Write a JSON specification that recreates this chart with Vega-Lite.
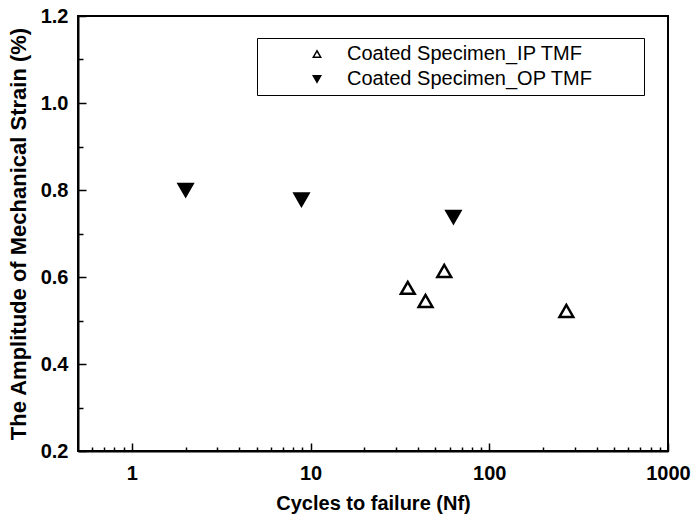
{
  "$schema": "https://vega.github.io/schema/vega-lite/v6.json",
  "width": 590,
  "height": 435,
  "autosize": "none",
  "padding": {"left": 78, "top": 16, "right": 25, "bottom": 73},
  "background": "white",
  "config": {
    "view": {"stroke": "black", "strokeWidth": 2},
    "font": "Liberation Sans",
    "axis": {"grid": false, "domainColor": "black", "domainWidth": 2, "tickColor": "black", "tickWidth": 1.5,
             "labelFont": "Liberation Sans", "labelFontWeight": "bold", "labelFontSize": 20, "labelColor": "black", "labelFlush": false,
             "titleFont": "Liberation Sans", "titleFontWeight": "bold", "titleFontSize": 22, "titleColor": "black", "titleLimit": 1000},
    "legend": {"strokeColor": "black"}
  },
  "data": {"values": [
    {"cycles": 2.0, "strain": 0.80, "series": "Coated Specimen_OP TMF"},
    {"cycles": 8.9, "strain": 0.778, "series": "Coated Specimen_OP TMF"},
    {"cycles": 63, "strain": 0.738, "series": "Coated Specimen_OP TMF"},
    {"cycles": 35, "strain": 0.575, "series": "Coated Specimen_IP TMF"},
    {"cycles": 44, "strain": 0.545, "series": "Coated Specimen_IP TMF"},
    {"cycles": 56, "strain": 0.614, "series": "Coated Specimen_IP TMF"},
    {"cycles": 270, "strain": 0.522, "series": "Coated Specimen_IP TMF"}
  ]},
  "layer": [
    {
      "mark": {"type": "point", "opacity": 0},
      "encoding": {
        "x": {"field": "cycles", "type": "quantitative", "scale": {"type": "log", "domain": [0.5, 1000], "nice": false},
              "axis": {"orient": "bottom", "values": [0.6,0.7,0.8,0.9,2,3,4,5,6,7,8,9,20,30,40,50,60,70,80,90,200,300,400,500,600,700,800,900],
                       "labels": false, "domain": false, "tickSize": -4, "title": null}},
        "y": {"field": "strain", "type": "quantitative", "scale": {"domain": [0.2, 1.2], "nice": false, "zero": false},
              "axis": {"orient": "left", "values": [0.3,0.5,0.7,0.9,1.1], "labels": false, "domain": false, "tickSize": -5, "title": null}}
      }
    },
    {
      "mark": {"type": "point", "filled": true, "size": 190, "strokeWidth": 2.5, "opacity": 1},
      "encoding": {
        "x": {"field": "cycles", "type": "quantitative",
              "axis": {"orient": "bottom", "values": [1, 10, 100, 1000], "format": "d", "tickSize": -8, "labelPadding": 20,
                       "title": "Cycles to failure (Nf)", "titlePadding": 10, "titleFontSize": 20}},
        "y": {"field": "strain", "type": "quantitative",
              "axis": {"orient": "left", "values": [0.2,0.4,0.6,0.8,1.0,1.2], "format": ".1f", "tickSize": -8, "labelPadding": 18,
                       "title": "The Amplitude of Mechanical Strain (%)", "titlePadding": 10}},
        "shape": {"field": "series", "type": "nominal",
                  "scale": {"domain": ["Coated Specimen_IP TMF", "Coated Specimen_OP TMF"], "range": ["triangle-up", "triangle-down"]},
                  "legend": {"orient": "none", "legendX": 179, "legendY": 22, "title": null,
                             "fillColor": "white", "padding": 6,
                             "symbolOffset": 44, "labelOffset": 20, "labelFontSize": 20, "labelFont": "Liberation Sans",
                             "labelFontWeight": "normal", "labelColor": "black", "symbolSize": 55, "symbolStrokeWidth": 1.5,
                             "rowPadding": 5, "labelLimit": 500,
                             "labelExpr": "datum.label + '\u2800\u2800\u2800'"}},
        "fill": {"field": "series", "type": "nominal",
                 "scale": {"domain": ["Coated Specimen_IP TMF", "Coated Specimen_OP TMF"], "range": ["white", "black"]},
                 "legend": null},
        "stroke": {"value": "black"}
      }
    }
  ],
  "resolve": {"axis": {"x": "independent", "y": "independent"}}
}
